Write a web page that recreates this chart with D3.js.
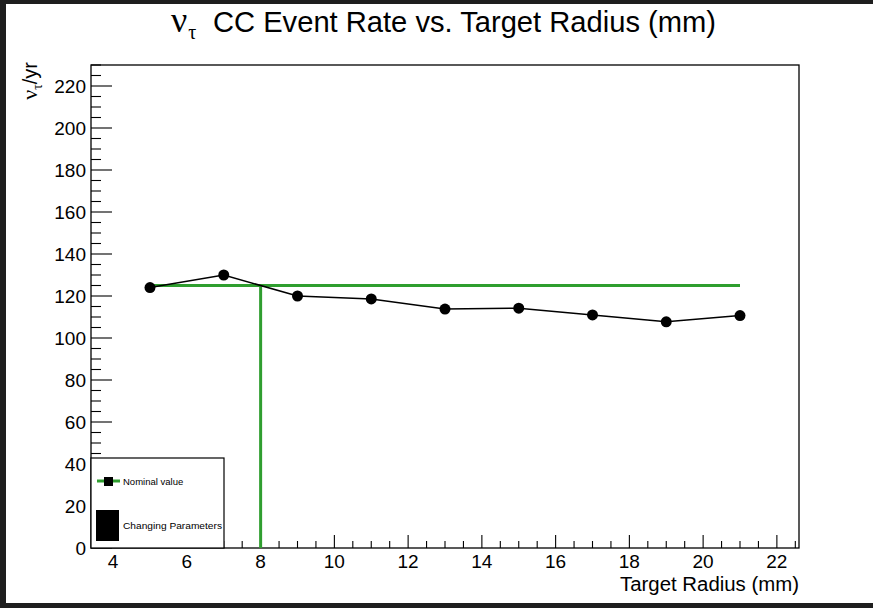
<!DOCTYPE html>
<html>
<head>
<meta charset="utf-8">
<script src="https://cdn.jsdelivr.net/npm/d3@7"></script>
<style>
  html, body { margin: 0; padding: 0; background: #ffffff; }
  svg { display: block; }
  text { font-family: "Liberation Sans", Arial, Helvetica, sans-serif; }
  .greek { font-family: "Liberation Serif", "DejaVu Serif", serif; }
</style>
</head>
<body>
<script>
// ---- data ----
const radii = [5, 7, 9, 11, 13, 15, 17, 19, 21];
const rates = [124, 130, 120, 118.6, 113.8, 114.2, 111, 107.7, 110.7];
const nominalValue = 125;
const nominalRadius = 8;
const xTicks = [4, 6, 8, 10, 12, 14, 16, 18, 20, 22];
const yTicks = [0, 20, 40, 60, 80, 100, 120, 140, 160, 180, 200, 220];
const xDomain = [3.4, 22.6];
const yDomain = [0, 230];
const legendLabels = ["Nominal value", "Changing Parameters"];

const W = 873, H = 608;
const frame = { left: 91, top: 65, right: 799, bottom: 548 };
const green = "#2f9e2f";

const svg = d3.select("body").append("svg").attr("width", W).attr("height", H);
svg.append("rect").attr("width", W).attr("height", H).attr("fill", "#ffffff");

// dark screenshot border
svg.append("rect").attr("x", 0).attr("y", 0).attr("width", W).attr("height", 4).attr("fill", "#1e1e1e");
svg.append("rect").attr("x", 0).attr("y", 0).attr("width", 6).attr("height", H).attr("fill", "#1e1e1e");
svg.append("rect").attr("x", 0).attr("y", 603).attr("width", W).attr("height", 5).attr("fill", "#1e1e1e");

const x = d3.scaleLinear().domain(xDomain).range([frame.left, frame.right]);
const y = d3.scaleLinear().domain(yDomain).range([frame.bottom, frame.top]);

// frame
svg.append("rect")
  .attr("x", frame.left).attr("y", frame.top)
  .attr("width", frame.right - frame.left).attr("height", frame.bottom - frame.top)
  .attr("fill", "none").attr("stroke", "#000").attr("stroke-width", 1.3);

// x axis: ticks inside (upward)
const xMinor = d3.range(3.5, 22.6, 0.5).filter(v => Math.abs(v / 2 - Math.round(v / 2)) > 1e-6);
const gx = svg.append("g");
gx.selectAll("line.minor").data(xMinor).join("line")
  .attr("x1", d => x(d)).attr("x2", d => x(d))
  .attr("y1", frame.bottom).attr("y2", frame.bottom - 7)
  .attr("stroke", "#000").attr("stroke-width", 1.1);
gx.selectAll("line.major").data(xTicks).join("line")
  .attr("x1", d => x(d)).attr("x2", d => x(d))
  .attr("y1", frame.bottom).attr("y2", frame.bottom - 13)
  .attr("stroke", "#000").attr("stroke-width", 1.1);
gx.selectAll("text").data(xTicks).join("text")
  .attr("x", d => x(d)).attr("y", frame.bottom + 20)
  .attr("text-anchor", "middle").attr("font-size", 19).attr("fill", "#000")
  .text(d => d);

// y axis
const yMinor = d3.range(0, 231, 5).filter(v => v % 20 !== 0);
const gy = svg.append("g");
gy.selectAll("line.minor").data(yMinor).join("line")
  .attr("x1", frame.left).attr("x2", frame.left + 10)
  .attr("y1", d => y(d)).attr("y2", d => y(d))
  .attr("stroke", "#000").attr("stroke-width", 1.1);
gy.selectAll("line.major").data(yTicks).join("line")
  .attr("x1", frame.left).attr("x2", frame.left + 21)
  .attr("y1", d => y(d)).attr("y2", d => y(d))
  .attr("stroke", "#000").attr("stroke-width", 1.1);
gy.selectAll("text").data(yTicks).join("text")
  .attr("x", frame.left - 5).attr("y", d => y(d) + 7)
  .attr("text-anchor", "end").attr("font-size", 19).attr("fill", "#000")
  .text(d => d);

// nominal lines (green)
svg.append("line")
  .attr("x1", x(radii[0])).attr("x2", x(radii[radii.length - 1]))
  .attr("y1", y(nominalValue)).attr("y2", y(nominalValue))
  .attr("stroke", green).attr("stroke-width", 3);
svg.append("line")
  .attr("x1", x(nominalRadius)).attr("x2", x(nominalRadius))
  .attr("y1", y(0)).attr("y2", y(nominalValue))
  .attr("stroke", green).attr("stroke-width", 3);

// data line + points
const pts = radii.map((r, i) => [r, rates[i]]);
svg.append("path")
  .attr("d", d3.line().x(d => x(d[0])).y(d => y(d[1]))(pts))
  .attr("fill", "none").attr("stroke", "#000").attr("stroke-width", 1.5);
svg.selectAll("circle.pt").data(pts).join("circle")
  .attr("cx", d => x(d[0])).attr("cy", d => y(d[1])).attr("r", 5.5)
  .attr("fill", "#000");

// legend
const lg = svg.append("g");
lg.append("rect").attr("x", frame.left).attr("y", 458)
  .attr("width", 224 - frame.left).attr("height", frame.bottom - 458)
  .attr("fill", "#fff").attr("stroke", "#000").attr("stroke-width", 1.2);
lg.append("line").attr("x1", 97).attr("x2", 120).attr("y1", 481).attr("y2", 481)
  .attr("stroke", green).attr("stroke-width", 3);
lg.append("rect").attr("x", 104).attr("y", 477).attr("width", 9).attr("height", 9).attr("fill", "#000");
lg.append("text").attr("x", 123).attr("y", 484.5).attr("font-size", 9.5)
  .attr("fill", "#000").text(legendLabels[0]);
lg.append("rect").attr("x", 96).attr("y", 510).attr("width", 23).attr("height", 31).attr("fill", "#000");
lg.append("text").attr("x", 123).attr("y", 529).attr("font-size", 9.5)
  .attr("textLength", 99).attr("lengthAdjust", "spacingAndGlyphs")
  .attr("fill", "#000").text(legendLabels[1]);

// title
const title = svg.append("text").attr("x", 171).attr("y", 32)
  .attr("text-anchor", "start").attr("font-size", 29).attr("fill", "#000");
title.append("tspan").attr("class", "greek").attr("font-size", 36).text("ν");
title.append("tspan").attr("class", "greek").attr("font-size", 20).attr("dy", 7).attr("dx", 1).text("τ");
title.append("tspan").attr("dy", -7).attr("x", 213).text("CC Event Rate vs. Target Radius (mm)")
  .attr("textLength", 503).attr("lengthAdjust", "spacingAndGlyphs");

// axis titles
svg.append("text").attr("x", frame.right).attr("y", 591)
  .attr("text-anchor", "end").attr("font-size", 20).attr("fill", "#000")
  .attr("textLength", 179).attr("lengthAdjust", "spacingAndGlyphs")
  .text("Target Radius (mm)");
const yt = svg.append("text")
  .attr("transform", `translate(37,62) rotate(-90)`)
  .attr("text-anchor", "end").attr("font-size", 20).attr("fill", "#000");
yt.append("tspan").attr("class", "greek").attr("font-size", 22).text("ν");
yt.append("tspan").attr("class", "greek").attr("font-size", 14).attr("dy", 5).text("τ");
yt.append("tspan").attr("dy", -5).text("/yr");
</script>
</body>
</html>
